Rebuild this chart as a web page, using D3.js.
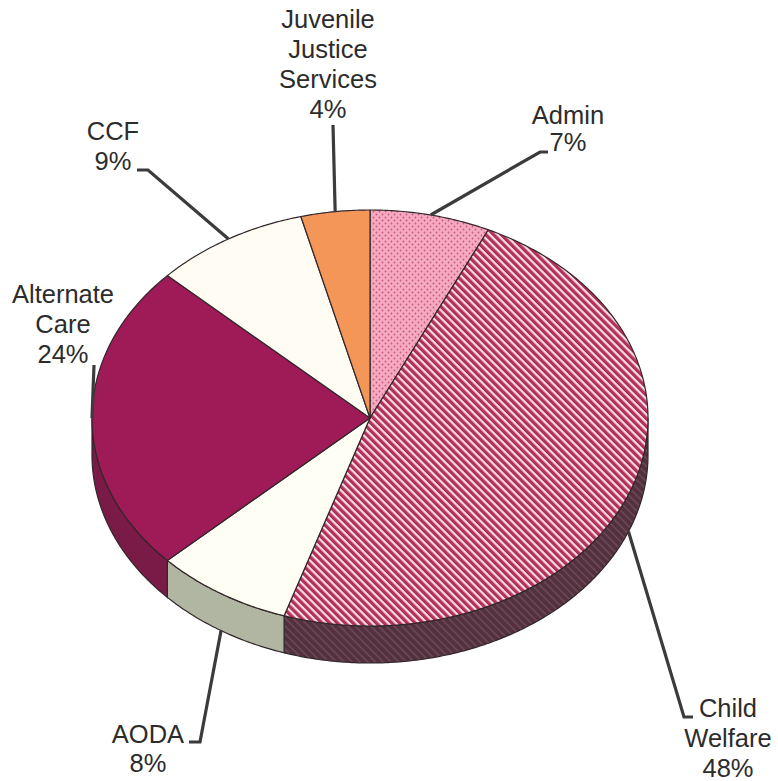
<!DOCTYPE html>
<html>
<head>
<meta charset="utf-8">
<script src="https://cdn.jsdelivr.net/npm/d3@7"></script>
<style>
  html, body { margin: 0; padding: 0; background: #fff; }
</style>
</head>
<body>
<div id="chart"></div>
<script>
// slice data, clockwise from 12 o'clock
const categories = ["Admin", "Child Welfare", "AODA", "Alternate Care", "CCF", "Juvenile Justice Services"];
const shares = [7, 48, 8, 24, 9, 4];
const nameLines = [["Admin"], ["Child", "Welfare"], ["AODA"], ["Alternate", "Care"], ["CCF"], ["Juvenile", "Justice", "Services"]];

const width = 778, height = 781;
const cx = 370, cy = 418, rx = 278, ry = 208, depth = 37;

// fills for top faces and side walls
const topFill = ["url(#dots)", "url(#hatch)", "#fffef4", "#9e1b57", "#fffdf3", "#f39658"];
const sideFill = ["#d98aa4", "url(#hatchSide)", "#b1b6a3", "#7a1a46", "#d8d6c8", "#c9743f"];

// label placement (text anchor point + leader elbow)
const layout = [
  { tx: 568, ty: 124, lh: 27, elbow: [[540, 152], [548, 152]] },
  { tx: 728, ty: 717, lh: 30, elbow: [[684, 717], [693, 717]] },
  { tx: 148, ty: 743, lh: 29, elbow: [[200, 742], [189, 742]] },
  { tx: 63, ty: 303, lh: 30, elbow: [[94, 365]] },
  { tx: 113, ty: 140, lh: 30, elbow: [[148, 170], [137, 170]] },
  { tx: 328, ty: 28, lh: 30, elbow: [[333, 125]] }
];

const svg = d3.select("#chart").append("svg")
  .attr("width", width)
  .attr("height", height);

const defs = svg.append("defs");

// pink dotted pattern (Admin)
const dots = defs.append("pattern")
  .attr("id", "dots")
  .attr("patternUnits", "userSpaceOnUse")
  .attr("width", 6).attr("height", 6);
dots.append("rect").attr("width", 6).attr("height", 6).attr("fill", "#f6aac2");
dots.append("circle").attr("cx", 1.5).attr("cy", 1.5).attr("r", 0.9).attr("fill", "#c5587c");
dots.append("circle").attr("cx", 4.5).attr("cy", 4.5).attr("r", 0.9).attr("fill", "#c5587c");

// diagonal hatch (Child Welfare)
const hatch = defs.append("pattern")
  .attr("id", "hatch")
  .attr("patternUnits", "userSpaceOnUse")
  .attr("width", 5.5).attr("height", 5.5)
  .attr("patternTransform", "rotate(-45)");
hatch.append("rect").attr("width", 5.5).attr("height", 5.5).attr("fill", "#fbdce6");
hatch.append("rect").attr("width", 3.2).attr("height", 5.5).attr("fill", "#a0284f");
hatch.append("rect").attr("x", 1.1).attr("width", 1).attr("height", 5.5).attr("fill", "#c9355f");

const hatchSide = defs.append("pattern")
  .attr("id", "hatchSide")
  .attr("patternUnits", "userSpaceOnUse")
  .attr("width", 5.5).attr("height", 5.5)
  .attr("patternTransform", "rotate(-45)");
hatchSide.append("rect").attr("width", 5.5).attr("height", 5.5).attr("fill", "#52303d");
hatchSide.append("rect").attr("width", 1.8).attr("height", 5.5).attr("fill", "#6a4654");

const pie = d3.pie().sort(null).value(d => d)(shares);

const pt = (a, dy = 0) => [cx + rx * Math.sin(a), cy - ry * Math.cos(a) + dy];
const sample = (a0, a1) => {
  const n = Math.max(2, Math.ceil(Math.abs(a1 - a0) / 0.01));
  return d3.range(n + 1).map(i => a0 + (a1 - a0) * i / n);
};
const line = d3.line();

// side walls, only the front half is visible
const sides = svg.append("g");
pie.forEach((d, i) => {
  const s0 = Math.max(d.startAngle, Math.PI / 2);
  const s1 = Math.min(d.endAngle, 3 * Math.PI / 2);
  if (s1 <= s0) return;
  const topEdge = sample(s0, s1).map(a => pt(a));
  const botEdge = sample(s1, s0).map(a => pt(a, depth));
  sides.append("path")
    .attr("d", line(topEdge.concat(botEdge)) + "Z")
    .attr("fill", sideFill[i])
    .attr("stroke", "#33262b")
    .attr("stroke-width", 1.2);
});

// top faces
const tops = svg.append("g");
pie.forEach((d, i) => {
  const pts = [[cx, cy]].concat(sample(d.startAngle, d.endAngle).map(a => pt(a)));
  tops.append("path")
    .attr("d", line(pts) + "Z")
    .attr("fill", topFill[i])
    .attr("stroke", "#33262b")
    .attr("stroke-width", 1.2)
    .attr("stroke-linejoin", "round");
});

// leader lines and labels
const labels = svg.append("g");
pie.forEach((d, i) => {
  const mid = (d.startAngle + d.endAngle) / 2;
  const front = Math.cos(mid) < -0.01;
  const anchor = pt(mid, front ? depth : 0);
  const L = layout[i];
  labels.append("path")
    .attr("d", line([anchor].concat(L.elbow)))
    .attr("fill", "none")
    .attr("stroke", "#3b3b3b")
    .attr("stroke-width", 3.2);

  const lines = nameLines[i].concat([shares[i] + "%"]);
  const t = labels.append("text")
    .attr("text-anchor", "middle")
    .style("font-family", "'Liberation Sans', Arial, sans-serif")
    .style("font-size", "25.5px")
    .attr("fill", "#2c2c2c");
  lines.forEach((s, k) => {
    t.append("tspan")
      .attr("x", L.tx)
      .attr("y", L.ty + k * L.lh)
      .text(s);
  });
});
</script>
</body>
</html>
